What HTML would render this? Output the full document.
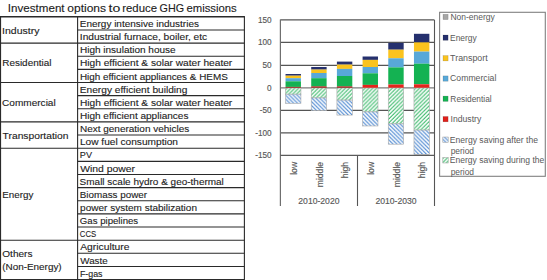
<!DOCTYPE html><html><head><meta charset="utf-8"><style>html,body{margin:0;padding:0;background:#fff;width:547px;height:280px;overflow:hidden}svg{display:block}text{font-family:"Liberation Sans",sans-serif;white-space:pre}.t{stroke:#2a2a2a;stroke-width:0.12px}.tt{stroke:#2a2a2a;stroke-width:0.12px}.g{stroke:#595959;stroke-width:0.15px}</style></head><body>
<svg width="547" height="280" viewBox="0 0 547 280">
<defs><pattern id="hg" patternUnits="userSpaceOnUse" x="0.0" y="0" width="3.9" height="3.9"><rect width="3.9" height="3.9" fill="#fff"/><polygon points="0.000,0.000 1.500,0.000 0.000,1.500" fill="#3ab96a"/><polygon points="0.000,3.900 3.900,0.000 3.900,1.500 1.500,3.900" fill="#3ab96a"/></pattern><pattern id="hb" patternUnits="userSpaceOnUse" x="0.0" y="0" width="3.9" height="3.9"><rect width="3.9" height="3.9" fill="#fff"/><polygon points="3.900,0.000 2.400,0.000 3.900,1.500" fill="#4885d0"/><polygon points="3.900,3.900 0.000,0.000 0.000,1.500 2.400,3.900" fill="#4885d0"/></pattern></defs>
<text id="t0" class="tt" x="7.85" y="11.50" font-size="11.2" fill="#1a1a1a" textLength="56.72" lengthAdjust="spacingAndGlyphs">Investment</text>
<text id="t1" class="tt" x="67.34" y="11.50" font-size="11.2" fill="#1a1a1a" textLength="38.72" lengthAdjust="spacingAndGlyphs">options</text>
<text id="t2" class="tt" x="108.58" y="11.50" font-size="11.2" fill="#1a1a1a" textLength="11.75" lengthAdjust="spacingAndGlyphs">to</text>
<text id="t3" class="tt" x="122.26" y="11.50" font-size="11.2" fill="#1a1a1a" textLength="34.74" lengthAdjust="spacingAndGlyphs">reduce</text>
<text id="t4" class="tt" x="159.54" y="11.50" font-size="11.2" fill="#1a1a1a" textLength="24.55" lengthAdjust="spacingAndGlyphs">GHG</text>
<text id="t5" class="tt" x="186.48" y="11.50" font-size="11.2" fill="#1a1a1a" textLength="50.26" lengthAdjust="spacingAndGlyphs">emissions</text>
<line x1="0" y1="16.80" x2="244.9" y2="16.80" stroke="#2a2a2a" stroke-width="1.4"/>
<line x1="0" y1="279.60" x2="244.9" y2="279.60" stroke="#2a2a2a" stroke-width="1.2"/>
<line x1="0.50" y1="16.80" x2="0.50" y2="279.60" stroke="#2a2a2a" stroke-width="1.2"/>
<line x1="77.60" y1="16.80" x2="77.60" y2="279.60" stroke="#2a2a2a" stroke-width="1.1"/>
<line x1="244.40" y1="16.80" x2="244.40" y2="279.60" stroke="#2a2a2a" stroke-width="1.1"/>
<line x1="77.6" y1="29.94" x2="244.4" y2="29.94" stroke="#2a2a2a" stroke-width="1.1"/>
<line x1="0" y1="43.08" x2="244.4" y2="43.08" stroke="#2a2a2a" stroke-width="1.1"/>
<line x1="77.6" y1="56.22" x2="244.4" y2="56.22" stroke="#2a2a2a" stroke-width="1.1"/>
<line x1="77.6" y1="69.36" x2="244.4" y2="69.36" stroke="#2a2a2a" stroke-width="1.1"/>
<line x1="0" y1="82.50" x2="244.4" y2="82.50" stroke="#2a2a2a" stroke-width="1.1"/>
<line x1="77.6" y1="95.64" x2="244.4" y2="95.64" stroke="#2a2a2a" stroke-width="1.1"/>
<line x1="77.6" y1="108.78" x2="244.4" y2="108.78" stroke="#2a2a2a" stroke-width="1.1"/>
<line x1="0" y1="121.92" x2="244.4" y2="121.92" stroke="#2a2a2a" stroke-width="1.1"/>
<line x1="77.6" y1="135.06" x2="244.4" y2="135.06" stroke="#2a2a2a" stroke-width="1.1"/>
<line x1="0" y1="148.20" x2="244.4" y2="148.20" stroke="#2a2a2a" stroke-width="1.1"/>
<line x1="77.6" y1="161.34" x2="244.4" y2="161.34" stroke="#2a2a2a" stroke-width="1.1"/>
<line x1="77.6" y1="174.48" x2="244.4" y2="174.48" stroke="#2a2a2a" stroke-width="1.1"/>
<line x1="77.6" y1="187.62" x2="244.4" y2="187.62" stroke="#2a2a2a" stroke-width="1.1"/>
<line x1="77.6" y1="200.76" x2="244.4" y2="200.76" stroke="#2a2a2a" stroke-width="1.1"/>
<line x1="77.6" y1="213.90" x2="244.4" y2="213.90" stroke="#2a2a2a" stroke-width="1.1"/>
<line x1="77.6" y1="227.04" x2="244.4" y2="227.04" stroke="#2a2a2a" stroke-width="1.1"/>
<line x1="0" y1="240.18" x2="244.4" y2="240.18" stroke="#2a2a2a" stroke-width="1.1"/>
<line x1="77.6" y1="253.32" x2="244.4" y2="253.32" stroke="#2a2a2a" stroke-width="1.1"/>
<line x1="77.6" y1="266.46" x2="244.4" y2="266.46" stroke="#2a2a2a" stroke-width="1.1"/>
<text id="r0" class="t" x="79.82" y="27.00" font-size="9.5" fill="#1a1a1a" textLength="119.11" lengthAdjust="spacingAndGlyphs">Energy intensive industries</text>
<text id="r1" class="t" x="79.80" y="40.14" font-size="9.5" fill="#1a1a1a" textLength="127.43" lengthAdjust="spacingAndGlyphs">Industrial furnace, boiler, etc</text>
<text id="r2" class="t" x="79.95" y="53.28" font-size="9.5" fill="#1a1a1a" textLength="95.69" lengthAdjust="spacingAndGlyphs">High insulation house</text>
<text id="r3" class="t" x="79.95" y="66.42" font-size="9.5" fill="#1a1a1a" textLength="152.33" lengthAdjust="spacingAndGlyphs">High efficient &amp; solar water heater</text>
<text id="r4" class="t" x="79.95" y="79.56" font-size="9.5" fill="#1a1a1a" textLength="147.81" lengthAdjust="spacingAndGlyphs">High efficient appliances &amp; HEMS</text>
<text id="r5" class="t" x="79.82" y="92.70" font-size="9.5" fill="#1a1a1a" textLength="107.59" lengthAdjust="spacingAndGlyphs">Energy efficient building</text>
<text id="r6" class="t" x="79.95" y="105.84" font-size="9.5" fill="#1a1a1a" textLength="152.33" lengthAdjust="spacingAndGlyphs">High efficient &amp; solar water heater</text>
<text id="r7" class="t" x="79.95" y="118.98" font-size="9.5" fill="#1a1a1a" textLength="108.46" lengthAdjust="spacingAndGlyphs">High efficient appliances</text>
<text id="r8" class="t" x="79.93" y="132.12" font-size="9.5" fill="#1a1a1a" textLength="109.41" lengthAdjust="spacingAndGlyphs">Next generation vehicles</text>
<text id="r9" class="t" x="79.93" y="145.26" font-size="9.5" fill="#1a1a1a" textLength="98.06" lengthAdjust="spacingAndGlyphs">Low fuel consumption</text>
<text id="r10" class="t" x="79.87" y="158.40" font-size="9.5" fill="#1a1a1a" textLength="12.17" lengthAdjust="spacingAndGlyphs">PV</text>
<text id="r11" class="t" x="80.24" y="171.54" font-size="9.5" fill="#1a1a1a" textLength="54.83" lengthAdjust="spacingAndGlyphs">Wind power</text>
<text id="r12" class="t" x="79.64" y="184.68" font-size="9.5" fill="#1a1a1a" textLength="144.22" lengthAdjust="spacingAndGlyphs">Small scale hydro &amp; geo-thermal</text>
<text id="r13" class="t" x="79.81" y="197.82" font-size="9.5" fill="#1a1a1a" textLength="67.27" lengthAdjust="spacingAndGlyphs">Biomass power</text>
<text id="r14" class="t" x="80.10" y="210.96" font-size="9.5" fill="#1a1a1a" textLength="116.87" lengthAdjust="spacingAndGlyphs">power system stabilization</text>
<text id="r15" class="t" x="79.83" y="224.10" font-size="9.5" fill="#1a1a1a" textLength="58.34" lengthAdjust="spacingAndGlyphs">Gas pipelines</text>
<text id="r16" class="t" x="79.84" y="237.24" font-size="9.5" fill="#1a1a1a" textLength="16.33" lengthAdjust="spacingAndGlyphs">CCS</text>
<text id="r17" class="t" x="80.25" y="250.38" font-size="9.5" fill="#1a1a1a" textLength="49.25" lengthAdjust="spacingAndGlyphs">Agriculture</text>
<text id="r18" class="t" x="80.24" y="263.52" font-size="9.5" fill="#1a1a1a" textLength="27.44" lengthAdjust="spacingAndGlyphs">Waste</text>
<text id="r19" class="t" x="79.88" y="276.66" font-size="9.5" fill="#1a1a1a" textLength="22.61" lengthAdjust="spacingAndGlyphs">F-gas</text>
<text id="s0_0" class="t" x="2.04" y="33.54" font-size="9.5" fill="#1a1a1a" textLength="37.40" lengthAdjust="spacingAndGlyphs">Industry</text>
<text id="s1_0" class="t" x="2.22" y="66.39" font-size="9.5" fill="#1a1a1a" textLength="49.21" lengthAdjust="spacingAndGlyphs">Residential</text>
<text id="s2_0" class="t" x="2.08" y="105.81" font-size="9.5" fill="#1a1a1a" textLength="53.63" lengthAdjust="spacingAndGlyphs">Commercial</text>
<text id="s3_0" class="t" x="2.63" y="138.66" font-size="9.5" fill="#1a1a1a" textLength="65.81" lengthAdjust="spacingAndGlyphs">Transportation</text>
<text id="s4_0" class="t" x="2.30" y="197.79" font-size="9.5" fill="#1a1a1a" textLength="31.13" lengthAdjust="spacingAndGlyphs">Energy</text>
<text id="s5_0" class="t" x="2.31" y="256.79" font-size="9.5" fill="#1a1a1a" textLength="30.20" lengthAdjust="spacingAndGlyphs">Others</text>
<text id="s5_1" class="t" x="2.18" y="270.19" font-size="9.5" fill="#1a1a1a" textLength="59.50" lengthAdjust="spacingAndGlyphs">(Non-Energy)</text>
<text class="g" x="271.6" y="22.90" font-size="8.2" fill="#595959" text-anchor="end">150</text>
<text class="g" x="271.6" y="45.48" font-size="8.2" fill="#595959" text-anchor="end">100</text>
<text class="g" x="271.6" y="68.06" font-size="8.2" fill="#595959" text-anchor="end">50</text>
<text class="g" x="271.6" y="90.64" font-size="8.2" fill="#595959" text-anchor="end">0</text>
<text class="g" x="271.6" y="113.22" font-size="8.2" fill="#595959" text-anchor="end">-50</text>
<text class="g" x="271.6" y="135.80" font-size="8.2" fill="#595959" text-anchor="end">-100</text>
<text class="g" x="271.6" y="158.38" font-size="8.2" fill="#595959" text-anchor="end">-150</text>
<line x1="280.4" y1="19.95" x2="434.5" y2="19.95" stroke="#555555" stroke-width="1.3"/>
<line x1="280.4" y1="42.45" x2="434.5" y2="42.45" stroke="#555555" stroke-width="1.3"/>
<line x1="280.4" y1="65.30" x2="434.5" y2="65.30" stroke="#555555" stroke-width="1.3"/>
<line x1="280.4" y1="110.40" x2="434.5" y2="110.40" stroke="#555555" stroke-width="1.3"/>
<line x1="280.4" y1="132.95" x2="434.5" y2="132.95" stroke="#555555" stroke-width="1.3"/>
<line x1="280.4" y1="87.80" x2="434.5" y2="87.80" stroke="#7c7c7c" stroke-width="1.3"/>
<rect x="285.54" y="74.00" width="15.4" height="1.70" fill="#25306e"/>
<rect x="285.54" y="75.70" width="15.4" height="2.50" fill="#fac31e"/>
<rect x="285.54" y="78.20" width="15.4" height="3.10" fill="#58a8d8"/>
<rect x="285.54" y="81.30" width="15.4" height="5.60" fill="#14b252"/>
<rect x="285.54" y="86.90" width="15.4" height="1.10" fill="#a3160f"/>
<rect x="285.54" y="88.00" width="15.4" height="6.20" fill="url(#hg)" stroke="#aaaaaa" stroke-width="0.6"/>
<rect x="285.54" y="94.20" width="15.4" height="9.20" fill="url(#hb)" stroke="#aaaaaa" stroke-width="0.6"/>
<rect x="311.22" y="67.00" width="15.4" height="2.60" fill="#25306e"/>
<rect x="311.22" y="69.60" width="15.4" height="3.40" fill="#fac31e"/>
<rect x="311.22" y="73.00" width="15.4" height="5.20" fill="#58a8d8"/>
<rect x="311.22" y="78.20" width="15.4" height="8.20" fill="#14b252"/>
<rect x="311.22" y="86.40" width="15.4" height="1.60" fill="#a3160f"/>
<rect x="311.22" y="88.00" width="15.4" height="9.90" fill="url(#hg)" stroke="#aaaaaa" stroke-width="0.6"/>
<rect x="311.22" y="97.90" width="15.4" height="12.70" fill="url(#hb)" stroke="#aaaaaa" stroke-width="0.6"/>
<rect x="336.91" y="61.60" width="15.4" height="3.00" fill="#25306e"/>
<rect x="336.91" y="64.60" width="15.4" height="4.30" fill="#fac31e"/>
<rect x="336.91" y="68.90" width="15.4" height="7.10" fill="#58a8d8"/>
<rect x="336.91" y="76.00" width="15.4" height="10.40" fill="#14b252"/>
<rect x="336.91" y="86.40" width="15.4" height="1.60" fill="#a3160f"/>
<rect x="336.91" y="88.00" width="15.4" height="12.10" fill="url(#hg)" stroke="#aaaaaa" stroke-width="0.6"/>
<rect x="336.91" y="100.10" width="15.4" height="15.00" fill="url(#hb)" stroke="#aaaaaa" stroke-width="0.6"/>
<rect x="362.59" y="56.50" width="15.4" height="3.40" fill="#25306e"/>
<rect x="362.59" y="59.90" width="15.4" height="7.10" fill="#fac31e"/>
<rect x="362.59" y="67.00" width="15.4" height="6.30" fill="#58a8d8"/>
<rect x="362.59" y="73.30" width="15.4" height="11.60" fill="#14b252"/>
<rect x="362.59" y="84.90" width="15.4" height="3.10" fill="#e5251c"/>
<rect x="362.59" y="88.00" width="15.4" height="23.90" fill="url(#hg)" stroke="#aaaaaa" stroke-width="0.6"/>
<rect x="362.59" y="111.90" width="15.4" height="14.10" fill="url(#hb)" stroke="#aaaaaa" stroke-width="0.6"/>
<rect x="388.27" y="42.90" width="15.4" height="6.80" fill="#25306e"/>
<rect x="388.27" y="49.70" width="15.4" height="8.60" fill="#fac31e"/>
<rect x="388.27" y="58.30" width="15.4" height="9.10" fill="#58a8d8"/>
<rect x="388.27" y="67.40" width="15.4" height="17.10" fill="#14b252"/>
<rect x="388.27" y="84.50" width="15.4" height="3.50" fill="#e5251c"/>
<rect x="388.27" y="88.00" width="15.4" height="35.90" fill="url(#hg)" stroke="#aaaaaa" stroke-width="0.6"/>
<rect x="388.27" y="123.90" width="15.4" height="20.30" fill="url(#hb)" stroke="#aaaaaa" stroke-width="0.6"/>
<rect x="413.96" y="33.80" width="15.4" height="8.60" fill="#25306e"/>
<rect x="413.96" y="42.40" width="15.4" height="9.20" fill="#fac31e"/>
<rect x="413.96" y="51.60" width="15.4" height="12.10" fill="#58a8d8"/>
<rect x="413.96" y="63.70" width="15.4" height="20.60" fill="#14b252"/>
<rect x="413.96" y="84.30" width="15.4" height="3.70" fill="#e5251c"/>
<rect x="413.96" y="88.00" width="15.4" height="42.10" fill="url(#hg)" stroke="#aaaaaa" stroke-width="0.6"/>
<rect x="413.96" y="130.10" width="15.4" height="24.20" fill="url(#hb)" stroke="#aaaaaa" stroke-width="0.6"/>
<line x1="280.40" y1="19.50" x2="280.40" y2="206.00" stroke="#6f6f6f" stroke-width="1.2"/>
<line x1="434.50" y1="20.00" x2="434.50" y2="206.00" stroke="#555555" stroke-width="1.1"/>
<line x1="357.50" y1="155.50" x2="357.50" y2="206.00" stroke="#555555" stroke-width="1.1"/>
<line x1="280.4" y1="155.40" x2="434.5" y2="155.40" stroke="#5a5a5a" stroke-width="1.3"/>
<text class="g" transform="translate(296.94,161.9) rotate(-90)" font-size="8.6" fill="#595959" text-anchor="end">low</text>
<text class="g" transform="translate(322.62,161.9) rotate(-90)" font-size="8.6" fill="#595959" text-anchor="end">middle</text>
<text class="g" transform="translate(348.31,161.9) rotate(-90)" font-size="8.6" fill="#595959" text-anchor="end">high</text>
<text class="g" transform="translate(373.99,161.9) rotate(-90)" font-size="8.6" fill="#595959" text-anchor="end">low</text>
<text class="g" transform="translate(399.68,161.9) rotate(-90)" font-size="8.6" fill="#595959" text-anchor="end">middle</text>
<text class="g" transform="translate(425.36,161.9) rotate(-90)" font-size="8.6" fill="#595959" text-anchor="end">high</text>
<text class="g" x="318.9" y="203.5" font-size="8.6" fill="#595959" text-anchor="middle">2010-2020</text>
<text class="g" x="396.0" y="203.5" font-size="8.6" fill="#595959" text-anchor="middle">2010-2030</text>
<rect x="439.6" y="12.3" width="105.7" height="164" fill="#fff" stroke="#808080" stroke-width="1.1"/>
<rect x="443.0" y="14.30" width="5.1" height="5.3" fill="#a6a6a6" stroke="#000" stroke-opacity="0.25" stroke-width="0.5"/>
<text id="l0" x="450.40" y="19.80" font-size="8.5" fill="#595959" textLength="44.36" lengthAdjust="spacingAndGlyphs">Non-energy</text>
<rect x="443.0" y="35.00" width="5.1" height="5.3" fill="#25306e" stroke="#000" stroke-opacity="0.25" stroke-width="0.5"/>
<text id="l1" x="450.02" y="40.50" font-size="8.5" fill="#595959" textLength="26.73" lengthAdjust="spacingAndGlyphs">Energy</text>
<rect x="443.0" y="55.60" width="5.1" height="5.3" fill="#fac31e" stroke="#000" stroke-opacity="0.25" stroke-width="0.5"/>
<text id="l2" x="450.14" y="61.10" font-size="8.5" fill="#595959" textLength="37.55" lengthAdjust="spacingAndGlyphs">Transport</text>
<rect x="443.0" y="75.90" width="5.1" height="5.3" fill="#58a8d8" stroke="#000" stroke-opacity="0.25" stroke-width="0.5"/>
<text id="l3" x="450.09" y="81.40" font-size="8.5" fill="#595959" textLength="46.27" lengthAdjust="spacingAndGlyphs">Commercial</text>
<rect x="443.0" y="96.10" width="5.1" height="5.3" fill="#14b252" stroke="#000" stroke-opacity="0.25" stroke-width="0.5"/>
<text id="l4" x="450.36" y="101.60" font-size="8.5" fill="#595959" textLength="41.29" lengthAdjust="spacingAndGlyphs">Residential</text>
<rect x="443.0" y="116.50" width="5.1" height="5.3" fill="#e0201b" stroke="#000" stroke-opacity="0.25" stroke-width="0.5"/>
<text id="l5" x="450.54" y="122.00" font-size="8.5" fill="#595959" textLength="30.71" lengthAdjust="spacingAndGlyphs">Industry</text>
<rect x="442.8" y="137.00" width="5.4" height="5.4" fill="url(#hb)" stroke="#9a9a9a" stroke-width="0.5"/>
<text id="l6" x="449.82" y="142.60" font-size="8.5" fill="#595959" textLength="88.19" lengthAdjust="spacingAndGlyphs">Energy saving after the</text>
<text id="p0" x="450.63" y="154.10" font-size="8.5" fill="#595959" textLength="23.45" lengthAdjust="spacingAndGlyphs">period</text>
<rect x="442.8" y="157.60" width="5.4" height="5.4" fill="url(#hg)" stroke="#9a9a9a" stroke-width="0.5"/>
<text id="l7" x="449.82" y="163.20" font-size="8.5" fill="#595959" textLength="94.53" lengthAdjust="spacingAndGlyphs">Energy saving during the</text>
<text id="p1" x="450.63" y="174.70" font-size="8.5" fill="#595959" textLength="23.45" lengthAdjust="spacingAndGlyphs">period</text>
</svg></body></html>
